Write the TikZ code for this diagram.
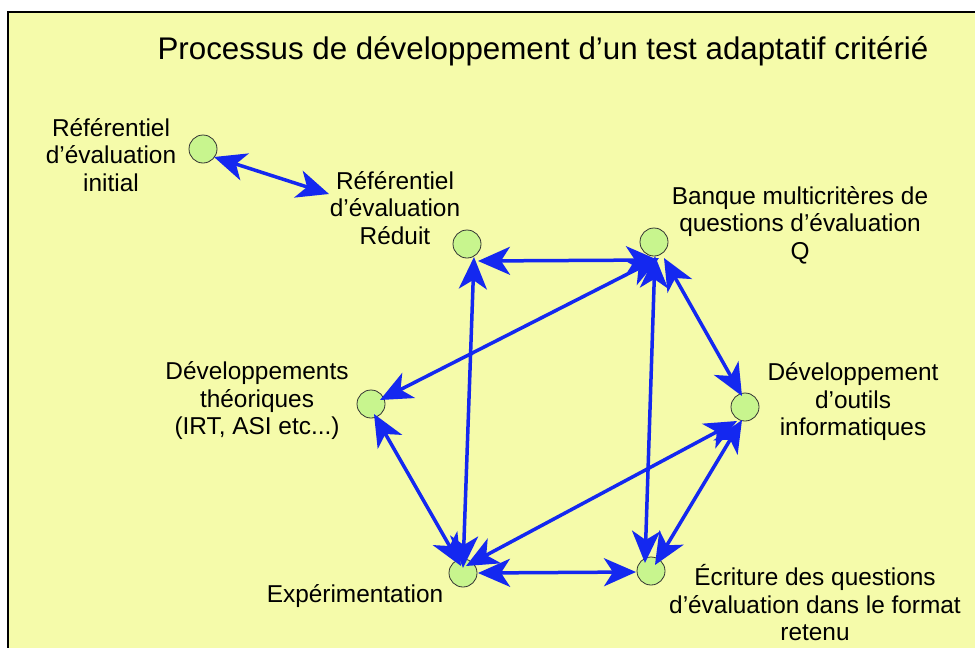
\documentclass[tikz,border=0pt]{standalone}
\usepackage{fontspec}
\setmainfont{Liberation Sans}
\usetikzlibrary{arrows.meta,calc}
\definecolor{bgyellow}{RGB}{245,251,170}
\definecolor{dotgreen}{RGB}{200,245,142}
\definecolor{arrowblue}{RGB}{20,40,240}
\tikzset{
  dot/.style={circle,draw=black!80,line width=0.8pt,fill=dotgreen,minimum size=28pt,inner sep=0pt},
  lbl/.style={align=center,font=\fontsize{24.4}{27.5}\selectfont,inner sep=0pt},
  link/.style={draw=arrowblue,line width=3.5pt,
    {Stealth[length=32pt,width=28pt,inset=9pt]}-{Stealth[length=32pt,width=28pt,inset=9pt]}}
}
\begin{document}
\begin{tikzpicture}[x=1pt,y=-1pt]
\useasboundingbox (0,0) rectangle (975,648);
\fill[white] (0,0) rectangle (975,648);
\fill[bgyellow] (8,12) rectangle (975,648);
\draw[line width=2pt] (8,648) -- (8,12) -- (975,12);

\node[font=\fontsize{31.3}{34}\selectfont,inner sep=0pt] (title) at (543,51) {Processus de développement d’un test adaptatif critérié};

\node[dot] (A) at (203,149) {};
\node[dot] (B) at (467,244) {};
\node[dot] (C) at (654,242) {};
\node[dot] (D) at (371,404) {};
\node[dot] (E) at (745,407) {};
\node[dot] (F) at (463,573) {};
\node[dot] (G) at (651,571) {};

\node[lbl] (la) at (111,155) {Référentiel\\d’évaluation\\initial};
\node[lbl] (lb) at (395,208) {Référentiel\\d’évaluation\\Réduit};
\node[lbl] (lc) at (800,225) {Banque multicritères de\\questions d’évaluation\\Q};
\node[lbl] (ld) at (257,401) {Développements\\théoriques\\(IRT, ASI etc...)};
\node[lbl] (le) at (853,402) {Développement\\d’outils\\informatiques};
\node[lbl] (lf) at (355,596) {Expérimentation};
\node[lbl] (lg) at (815,603) {Écriture des questions\\d’évaluation dans le format\\retenu};

\coordinate (Ared) at (329,194);

\draw[link] ($(A)+(11,8)$) -- (Ared);
\draw[link] ($(B)+(11,17)$) -- ($(C)+(4,18)$);
\draw[link] ($(B)+(7,13)$) -- ($(F)+(0,-5)$);
\draw[link] ($(C)+(5,16)$) -- ($(D)+(9,-4)$);
\draw[link] ($(C)+(1,14)$) -- ($(G)+(-6,-8)$);
\draw[link] ($(C)+(10,16)$) -- ($(E)+(-3,-11)$);
\draw[link] ($(D)+(3,10)$) -- ($(F)+(-2,-7)$);
\draw[link] ($(E)+(-8,14)$) -- ($(F)+(3,-7)$);
\draw[link] ($(E)+(-3,13)$) -- ($(G)+(4,-6)$);
\draw[link] ($(F)+(15,0)$) -- ($(G)+(-15,1)$);
\end{tikzpicture}
\end{document}
